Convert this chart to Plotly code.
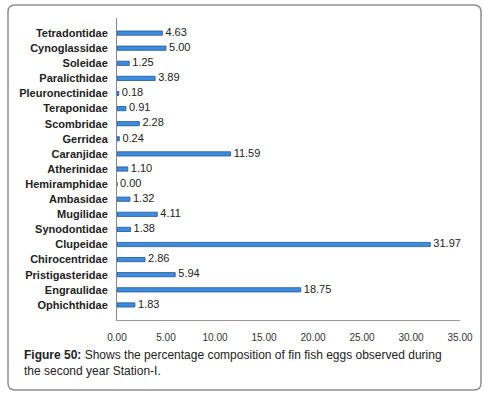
import plotly.graph_objects as go

categories = ["Tetradontidae", "Cynoglassidae", "Soleidae", "Paralicthidae", "Pleuronectinidae",
              "Teraponidae", "Scombridae", "Gerridea", "Caranjidae", "Atherinidae",
              "Hemiramphidae", "Ambasidae", "Mugilidae", "Synodontidae", "Clupeidae",
              "Chirocentridae", "Pristigasteridae", "Engraulidae", "Ophichthidae"]
values = [4.63, 5.00, 1.25, 3.89, 0.18, 0.91, 2.28, 0.24, 11.59, 1.10,
          0.00, 1.32, 4.11, 1.38, 31.97, 2.86, 5.94, 18.75, 1.83]
x_ticks = [0, 5, 10, 15, 20, 25, 30, 35]

W, H = 484, 395
L, R, T, B = 117, 24, 18, 75
PW, PH = W - L - R, H - T - B

def px(x):
    return (x - L) / PW

def py(y):
    return (H - B - y) / PH

fig = go.Figure()
fig.add_trace(go.Bar(
    x=values, y=categories, orientation="h", width=0.28,
    marker=dict(color="#3A8DE0", line=dict(color="#24558F", width=0.8)),
))
fig.add_trace(go.Scatter(
    x=values, y=categories, mode="text", text=[" " + f"{v:.2f}" for v in values],
    textposition="middle right", cliponaxis=False,
    textfont=dict(family="Liberation Sans", size=11, color="#222"),
))

# rounded border
x0, x1, y0, y1, r = 8, 481, 5, 390, 7
pts = (f"M {px(x0+r)},{py(y0)} L {px(x1-r)},{py(y0)} Q {px(x1)},{py(y0)} {px(x1)},{py(y0+r)} "
       f"L {px(x1)},{py(y1-r)} Q {px(x1)},{py(y1)} {px(x1-r)},{py(y1)} "
       f"L {px(x0+r)},{py(y1)} Q {px(x0)},{py(y1)} {px(x0)},{py(y1-r)} "
       f"L {px(x0)},{py(y0+r)} Q {px(x0)},{py(y0)} {px(x0+r)},{py(y0)} Z")
fig.add_shape(type="path", xref="paper", yref="paper", path=pts,
              line=dict(color="#8f8f8f", width=1.5), layer="below")

fig.add_annotation(xref="paper", yref="paper", x=px(22), y=py(346), xanchor="left", yanchor="top",
                   align="left", showarrow=False,
                   text="<b>Figure 50:</b> Shows the percentage composition of fin fish eggs observed during<br>the second year Station-I.",
                   font=dict(family="Liberation Sans", size=12, color="#222"))

fig.update_layout(
    width=W, height=H, margin=dict(l=L, r=R, t=T, b=B),
    paper_bgcolor="white", plot_bgcolor="white", showlegend=False,
    xaxis=dict(range=[0, 35], tickvals=x_ticks, tickformat=".2f", showgrid=False, zeroline=False,
               showline=True, linecolor="#999", linewidth=1, ticks="", ticklabelstandoff=8,
               tickfont=dict(family="Liberation Sans", size=10, color="#333")),
    yaxis=dict(autorange="reversed", showgrid=False, zeroline=False, showline=True,
               linecolor="#888", linewidth=1, ticks="", ticklabelstandoff=6,
               tickfont=dict(family="Liberation Sans", size=11, color="#222", weight="bold")),
)
fig.write_html("out.html", config={"displayModeBar": False},
               post_script="document.body.style.margin='0';document.body.style.overflow='hidden';")
